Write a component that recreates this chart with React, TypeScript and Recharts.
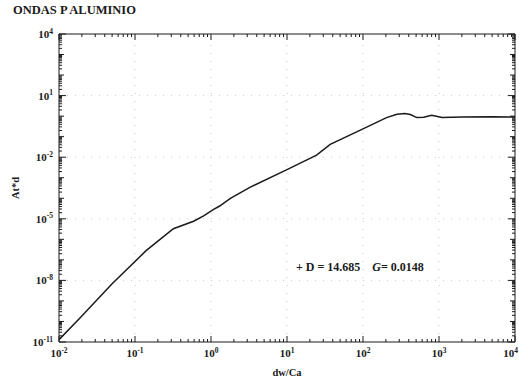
import React from "react";
import { LineChart, Line, XAxis, YAxis, ReferenceLine } from "recharts";

// values (log-log)
const dwCa = [0.01, 0.019, 0.05, 0.14, 0.32, 0.59, 0.8, 1.07, 1.3, 1.8, 3.2, 10, 24.5, 37, 100, 204, 280, 355, 420, 510, 630, 800, 1100, 2000, 5000, 10000];
const atd = [1.3e-11, 1.5e-10, 6.9e-9, 2.8e-7, 3.3e-6, 7.6e-6, 1.4e-5, 2.8e-5, 4.2e-5, 1e-4, 3.3e-4, 2.5e-3, 0.0126, 0.042, 0.24, 0.85, 1.23, 1.35, 1.2, 0.85, 0.89, 1.1, 0.85, 0.9, 0.93, 0.9];

const xDecades = [0.01, 0.1, 1, 10, 100, 1000, 10000];
const xExps = ["-2", "-1", "0", "1", "2", "3", "4"];
const yDecades = [1e-11, 1e-10, 1e-9, 1e-8, 1e-7, 1e-6, 1e-5, 1e-4, 1e-3, 1e-2, 1e-1, 1, 10, 100, 1000, 1e4];
const yLabelled = [1e-11, 1e-8, 1e-5, 1e-2, 10, 1e4];
const yExps = ["-11", "-8", "-5", "-2", "1", "4"];

const data = dwCa.map((x, i) => ({ x, y: atd[i] }));

const withMinors = (decades: number[]) => {
  const out: number[] = [];
  decades.forEach((d, i) => {
    out.push(d);
    if (i < decades.length - 1) for (let m = 2; m <= 9; m++) out.push(Number((m * d).toPrecision(3)));
  });
  return out;
};
const xTicks = withMinors(xDecades);
const yTicks = withMinors(yDecades);

const FONT = "'Liberation Serif', 'DejaVu Serif', serif";
const INK = "#1a1a1a";

const isDecade = (v: number) => {
  const l = Math.log10(v);
  return Math.abs(l - Math.round(l)) < 1e-6;
};
const sameVal = (a: number, b: number) => Math.abs(Math.log10(a) - Math.log10(b)) < 1e-6;

const Pow = ({ x, y, exp, anchor }: { x: number; y: number; exp: string; anchor: string }) => (
  <text x={x} y={y} textAnchor={anchor} fontFamily={FONT} fontWeight="bold" fontSize={11} fill={INK}>
    10<tspan dy={-4.5} fontSize={7.5}>{exp}</tspan>
  </text>
);

const BottomTick = (props: any) => {
  const { x, y, payload } = props;
  const v = payload.value;
  const major = isDecade(v);
  const idx = xDecades.findIndex((d) => sameVal(d, v));
  const last = idx === xDecades.length - 1;
  return (
    <g>
      <line x1={x} x2={x} y1={y} y2={y - (major ? 6 : 3)} stroke={INK} />
      {idx >= 0 && <Pow x={last ? x + 3 : x} y={y + 15} exp={xExps[idx]} anchor={last ? "end" : "middle"} />}
    </g>
  );
};

const TopTick = (props: any) => {
  const { x, y, payload } = props;
  const major = isDecade(payload.value);
  return <line x1={x} x2={x} y1={y} y2={y + (major ? 6 : 3)} stroke={INK} />;
};

const LeftTick = (props: any) => {
  const { x, y, payload } = props;
  const v = payload.value;
  const idx = yLabelled.findIndex((d) => sameVal(d, v));
  const len = idx >= 0 ? 7 : isDecade(v) ? 5 : 3;
  return (
    <g>
      <line x1={x} x2={x + len} y1={y} y2={y} stroke={INK} />
      {idx >= 0 && <Pow x={x - 6} y={y + 4} exp={yExps[idx]} anchor="end" />}
    </g>
  );
};

const RightTick = (props: any) => {
  const { x, y, payload } = props;
  const v = payload.value;
  const len = yLabelled.some((d) => sameVal(d, v)) ? 7 : isDecade(v) ? 5 : 3;
  return <line x1={x} x2={x - len} y1={y} y2={y} stroke={INK} />;
};

export default function App() {
  return (
    <div style={{ position: "absolute", left: 0, top: 0, width: 519, height: 389, background: "#fff" }}>
      <LineChart width={519} height={389} data={data} margin={{ top: 33, right: 3, bottom: 0, left: 0 }}>
        <XAxis xAxisId="b" dataKey="x" type="number" scale="log" domain={[0.01, 10000]} allowDataOverflow
          ticks={xTicks} interval={0} tick={<BottomTick />} tickLine={false} tickSize={0} tickMargin={0}
          height={47} axisLine={{ stroke: INK }} />
        <XAxis xAxisId="t" orientation="top" dataKey="x" type="number" scale="log" domain={[0.01, 10000]} allowDataOverflow
          ticks={xTicks} interval={0} tick={<TopTick />} tickLine={false} tickSize={0} tickMargin={0}
          height={1} axisLine={{ stroke: INK }} />
        <YAxis yAxisId="l" type="number" scale="log" domain={[1e-11, 1e4]} allowDataOverflow
          ticks={yTicks} interval={0} tick={<LeftTick />} tickLine={false} tickSize={0} tickMargin={0}
          width={59} axisLine={{ stroke: INK }} />
        <YAxis yAxisId="r" orientation="right" type="number" scale="log" domain={[1e-11, 1e4]} allowDataOverflow
          ticks={yTicks} interval={0} tick={<RightTick />} tickLine={false} tickSize={0} tickMargin={0}
          width={1} axisLine={{ stroke: INK }} />
        {xDecades.slice(1, -1).map((v) => (
          <ReferenceLine key={"vx" + v} xAxisId="b" yAxisId="l" x={v} stroke="#c8c8c8" strokeDasharray="1 7" />
        ))}
        {yLabelled.slice(1, -1).map((v) => (
          <ReferenceLine key={"hy" + v} xAxisId="b" yAxisId="l" y={v} stroke="#c8c8c8" strokeDasharray="1 7" />
        ))}
        <Line xAxisId="b" yAxisId="l" dataKey="y" type="linear" stroke={INK} strokeWidth={1.5} dot={false} isAnimationActive={false} />
      </LineChart>
      <div style={{ position: "absolute", left: 13, top: 3, fontFamily: FONT, fontWeight: "bold", fontSize: 12.5, color: INK, whiteSpace: "nowrap" }}>
        ONDAS P ALUMINIO
      </div>
      <div style={{ position: "absolute", left: 15, top: 188, transform: "translate(-50%, -50%) rotate(-90deg)", fontFamily: FONT, fontWeight: "bold", fontSize: 10.5, color: INK, whiteSpace: "nowrap" }}>
        At*d
      </div>
      <div style={{ position: "absolute", left: 287, top: 372, transform: "translate(-50%, -50%)", fontFamily: FONT, fontWeight: "bold", fontSize: 10.5, color: INK, whiteSpace: "nowrap" }}>
        dw/Ca
      </div>
      <div style={{ position: "absolute", left: 296, top: 260, fontFamily: FONT, fontWeight: "bold", fontSize: 12, color: INK, whiteSpace: "nowrap" }}>
        + D = 14.685&nbsp;&nbsp;&nbsp;&nbsp;<i>G</i>= 0.0148
      </div>
    </div>
  );
}
